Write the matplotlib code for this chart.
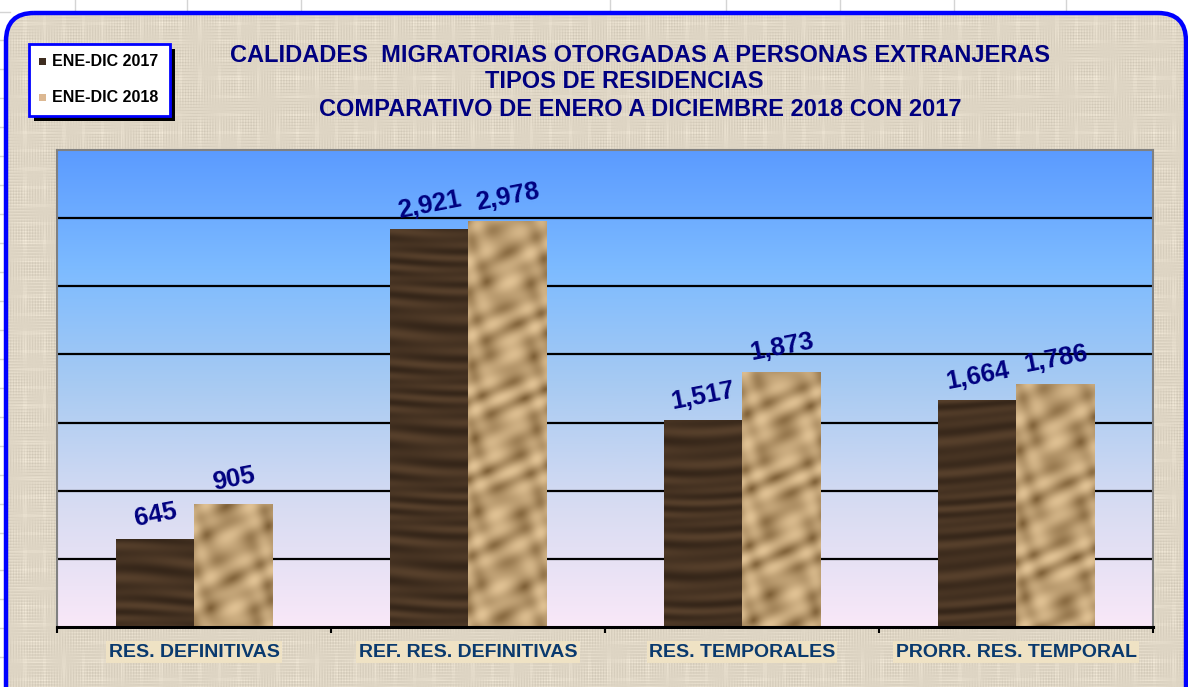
import matplotlib
matplotlib.use("Agg")
import matplotlib.pyplot as plt
import numpy as np
from matplotlib.patches import FancyBboxPatch, Rectangle
from matplotlib.colors import LinearSegmentedColormap
import matplotlib.transforms as mtransforms

categories = ["RES. DEFINITIVAS", "REF. RES. DEFINITIVAS", "RES. TEMPORALES", "PRORR. RES. TEMPORAL"]
values_2017 = [645, 2921, 1517, 1664]
values_2018 = [905, 2978, 1873, 1786]
series_names = ["ENE-DIC 2017", "ENE-DIC 2018"]
title_lines = ["CALIDADES  MIGRATORIAS OTORGADAS A PERSONAS EXTRANJERAS",
               "TIPOS DE RESIDENCIAS",
               "COMPARATIVO DE ENERO A DICIEMBRE 2018 CON 2017"]

plt.rcParams['font.family'] = ['Liberation Sans', 'DejaVu Sans']

W, H = 1188, 687
fig = plt.figure(figsize=(W / 100, H / 100), dpi=100, facecolor='white')

# background layer in pixel coordinates
bg = fig.add_axes([0, 0, 1, 1])
bg.axis('off')

# spreadsheet grid peeking out behind the chart
for x in [75, 187, 301, 610, 726, 840, 954, 1066]:
    bg.plot([x, x], [0, 14], color='#d4d4d4', lw=1)
bg.plot([0, 10], [12, 12], color='#d4d4d4', lw=1)
for y in [40, 69, 98, 127, 156, 185, 214, 243, 272, 301, 330, 359, 388, 417, 446, 475, 504, 533, 570, 599, 628, 657]:
    bg.plot([0, 6], [y, y], color='#d4d4d4', lw=1)

frame = FancyBboxPatch((6, 13), W - 8, H + 20, boxstyle='round,pad=0,rounding_size=28',
                       facecolor='#ddd3c0', edgecolor='none', zorder=1)
bg.add_patch(frame)

# burlap-like weave
xx, yy = np.meshgrid(np.arange(W), np.arange(H))
weave = (0.03 * np.sin(xx * 2.3) * (0.5 + 0.5 * np.sin(yy / 6.0 + xx / 40.0))
         + 0.03 * np.sin(yy * 2.1) * (0.5 + 0.5 * np.sin(xx / 8.0 - yy / 30.0))
         + 0.025 * (np.sin(xx / 3.1) > 0.85) * np.sin(yy / 17.0) ** 2
         + 0.025 * (np.sin(yy / 2.9) > 0.85) * np.sin(xx / 21.0) ** 2)
base = np.array([222, 213, 196]) / 255
img = np.clip(base[None, None, :] + weave[:, :, None], 0, 1)
im = bg.imshow(img, extent=(0, W, H, 0), zorder=1.5, interpolation='bilinear')
im.set_clip_path(frame)

edge = FancyBboxPatch((6, 13), W - 8, H + 20, boxstyle='round,pad=0,rounding_size=28',
                      facecolor='none', edgecolor='#0000ff', lw=3.2, zorder=2)
bg.add_patch(edge)
bg.set_xlim(0, W)
bg.set_ylim(H, 0)
bg.set_aspect('auto')

# title
for t, xc, y in zip(title_lines, [640, 624, 640], [55, 82, 109]):
    bg.text(xc, y, t, ha='center', va='center', fontsize=17, fontweight='bold',
            color='#000080', zorder=3)

# legend box
bg.add_patch(Rectangle((34, 49), 141, 72, facecolor='black', zorder=3))
bg.add_patch(Rectangle((29, 44), 141, 72, facecolor='white', edgecolor='#0000ff', lw=2, zorder=3))
bg.add_patch(Rectangle((39, 58), 7, 7, facecolor='#3e2d20', zorder=4))
bg.add_patch(Rectangle((39, 94), 7, 7, facecolor='#dcb892', zorder=4))
bg.text(52, 61, series_names[0], va='center', fontsize=11.5, fontweight='bold', color='black', zorder=4)
bg.text(52, 97, series_names[1], va='center', fontsize=11.5, fontweight='bold', color='black', zorder=4)

# plot area
left, right, top, bottom = 57, 1153, 150, 627
ax = fig.add_axes([left / W, 1 - bottom / H, (right - left) / W, (bottom - top) / H])
ax.set_xlim(-0.5, 3.5)
ax.set_ylim(0, 3500)

cmap = LinearSegmentedColormap.from_list('sky', ['#f9e8f8', '#d8dcf2', '#a9cbf2', '#7dbbff', '#5b9bff'])
grad = np.linspace(1, 0, 256)[:, None]
ax.imshow(grad, extent=(-0.5, 3.5, 0, 3500), aspect='auto', cmap=cmap, zorder=0)

for y in range(500, 3500, 500):
    ax.axhline(y, color='black', lw=1.6, zorder=1)

x = np.arange(len(categories))
w = 0.285
b17 = ax.bar(x - w / 2, values_2017, w, color='#3e2d20', zorder=2)
b18 = ax.bar(x + w / 2, values_2018, w, color='#c9a57a', zorder=2)

# textures for the bars
ph, pw = bottom - top, right - left
gx, gy = np.meshgrid(np.arange(pw), np.arange(ph))
wood = 0.5 + 0.5 * np.sin(gy / 2.6 + 1.5 * np.sin(gx / 37.0) + 2.0 * np.sin(gy / 19.0)) * np.sin(gy / 11.0 + gx / 90.0)
wood_img = np.stack([0.21 + 0.13 * wood, 0.15 + 0.10 * wood, 0.10 + 0.07 * wood], axis=2)
crumple = (np.sin((gx + 1.3 * gy) / 8.0 + 1.5 * np.sin(gy / 13.0))
           + 0.7 * np.sin((gx - 0.5 * gy) / 5.0 + np.sin(gx / 11.0))
           + 0.4 * np.sin(gy / 3.0 + gx / 7.0))
crumple = (crumple - crumple.min()) / (crumple.max() - crumple.min())
crumple = crumple ** 0.7
paper_img = np.stack([0.50 + 0.38 * crumple, 0.38 + 0.38 * crumple, 0.22 + 0.36 * crumple], axis=2)
for bars, tex in [(b17, wood_img), (b18, paper_img)]:
    for p in bars:
        t = ax.imshow(tex, extent=(-0.5, 3.5, 0, 3500), aspect='auto', zorder=2.5, origin='upper')
        t.set_clip_path(p)

# value labels
for xs, vals in [(x - w / 2, values_2017), (x + w / 2, values_2018)]:
    for xi, v in zip(xs, vals):
        ax.annotate(f'{v:,}', (xi, v), xytext=(2, 9), textcoords='offset points',
                    ha='center', va='bottom', rotation=11, rotation_mode='anchor',
                    fontsize=18.5, fontweight='bold', color='#000080', zorder=4)

# axes styling
for s in ['left', 'top', 'right']:
    ax.spines[s].set_color('#808080')
    ax.spines[s].set_linewidth(1.5)
ax.spines['bottom'].set_color('black')
ax.spines['bottom'].set_linewidth(2.2)
ax.set_yticks([])
ax.set_xticks([-0.5, 0.5, 1.5, 2.5, 3.5])
ax.set_xticklabels([])
ax.tick_params(axis='x', direction='out', length=4, width=1.5, color='black')

trans = mtransforms.blended_transform_factory(ax.transData, ax.transAxes)
for xi, c in zip(x, categories):
    ax.text(xi, -0.053, c, transform=trans, ha='center', va='center', fontsize=14,
            fontweight='bold', color='#0a3a6e', clip_on=False,
            bbox=dict(boxstyle='square,pad=0.12', facecolor='#efe2c4', edgecolor='none'))

fig.savefig('out.png', dpi=100)
